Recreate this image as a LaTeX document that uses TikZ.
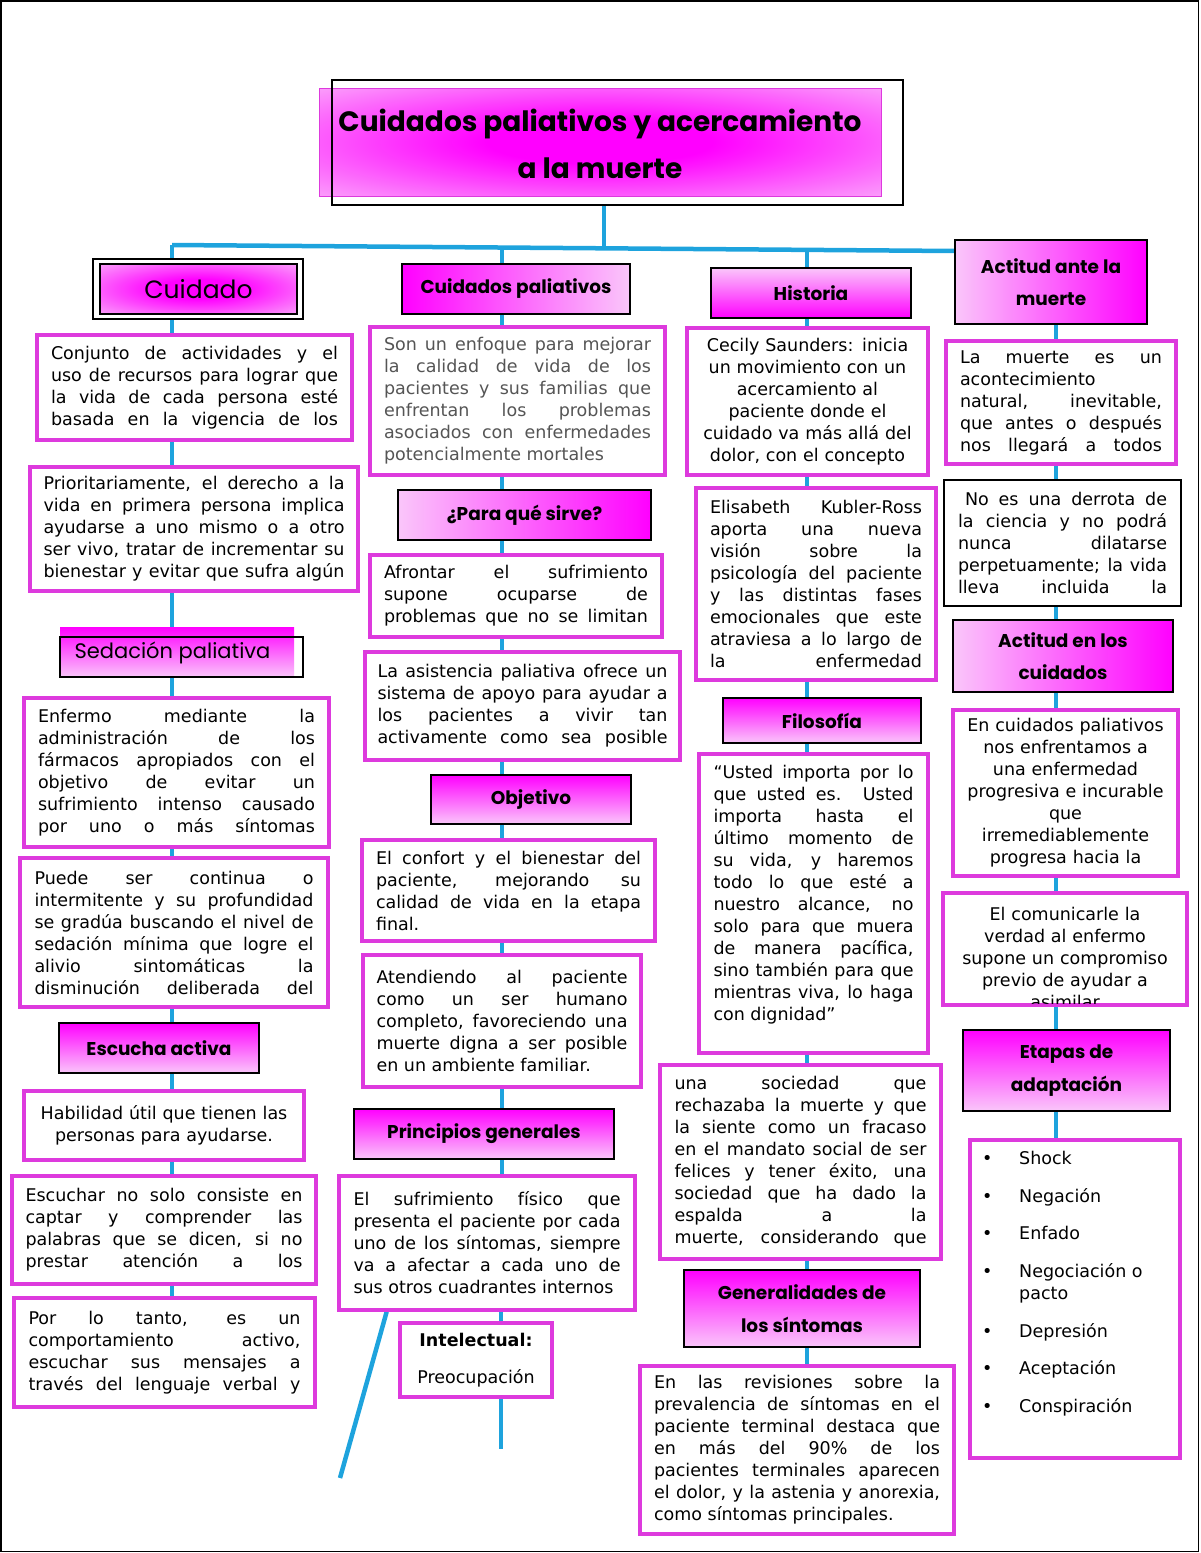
\documentclass[tikz,border=0pt]{standalone}
\usepackage{fontspec}
\setmainfont{DejaVu Sans}
\newfontfamily\hdrfont{Poppins}
\usetikzlibrary{backgrounds,calc}
\definecolor{mborder}{HTML}{DD3ADD}
\definecolor{cblue}{HTML}{1EA3DD}
\definecolor{gpink}{HTML}{FAC6FA}
\definecolor{gmag}{HTML}{FF00FF}
\definecolor{greytxt}{HTML}{555555}
\pgfdeclareradialshading{glow}{\pgfpoint{0bp}{0bp}}{color(0bp)=(gmag); color(10bp)=(gmag); color(42bp)=(gpink); color(50bp)=(gpink)}
\newcommand\bodyf{\fontsize{17.5}{22}\selectfont\tolerance=9999\hyphenpenalty=10000\relax}
\newcommand\pfz{\parfillskip=0pt\relax}
\newcommand\vconn[3]{\draw[conn] (#2.south -| #1) -- (#3.north -| #1);}
\tikzset{
  tbox/.style={draw=mborder, line width=3.5pt, fill=white, inner sep=0pt, font=\bodyf, align=justify},
  cbox/.style={tbox, align=center},
  hbox/.style={draw=black, line width=1.5pt, inner sep=0pt, align=center, font=\hdrfont\bfseries\fontsize{18.5}{32.5}\selectfont},
  vg/.style={top color=gmag, bottom color=gpink},
  vgr/.style={top color=gpink, bottom color=gmag},
  hg/.style={left color=gmag, right color=gpink},
  hgr/.style={left color=gpink, right color=gmag},
  conn/.style={draw=cblue, line width=4.5pt},
}
\begin{document}
\begin{tikzpicture}[x=1pt,y=-1pt]
\useasboundingbox (0,0) rectangle (1200,1553);
\draw[line width=1.5pt] (1,1) rectangle (1198.5,1551.5);

% ---- title
\node[draw=mborder, line width=1pt, shade, shading=glow, minimum width=562, minimum height=108, inner sep=0] (titlefill) at (600,142) {};
\node[draw=black, line width=2pt, minimum width=571, minimum height=125, inner sep=0] (title) at (617.5,142.5) {};
\node[font=\hdrfont\bfseries\fontsize{28}{47}\selectfont, align=center, inner sep=0] (titletxt) at (600,143.5) {Cuidados paliativos y acercamiento\\a la muerte};

\coordinate (hL) at (172,245);
\coordinate (hR) at (955,251);
\coordinate (jt) at (604,248);
\coordinate (jcp) at (502,247.5);
\coordinate (jh) at (807,249.9);
\coordinate (x1) at (172,0);
\coordinate (x2) at (502,0);
\coordinate (x2b) at (501,0);
\coordinate (x3) at (807,0);
\coordinate (x4) at (1056,0);
\coordinate (iend) at (501,1449);
\coordinate (dend) at (340,1478);

% ---- column 1
\node[draw=black, line width=2pt, fill=white, minimum width=210, minimum height=60, inner sep=0] (cuidout) at (198,289) {};
\node[draw=black, line width=1.5pt, shade, shading=glow, minimum width=197, minimum height=50, inner sep=0, font=\hdrfont\fontsize{25}{28}\selectfont] (cuid) at (198.5,289) {Cuidado};

\node[tbox, text width=287, minimum width=315, minimum height=105] (c1) at (194.5,387.5) {\pfz Conjunto de actividades y el\linebreak uso de recursos para lograr que\linebreak la vida de cada persona esté\linebreak basada en la vigencia de los\par};
\node[tbox, text width=301, minimum width=328, minimum height=124] (c2) at (194,529) {\pfz Prioritariamente, el derecho a la\linebreak vida en primera persona implica\linebreak ayudarse a uno mismo o a otro\linebreak ser vivo, tratar de incrementar su\linebreak bienestar y evitar que sufra algún\par};

\node[vg, minimum width=234, minimum height=50, inner sep=0] (sedfill) at (177,652) {};
\node[draw=black, line width=2pt, minimum width=243, minimum height=40, inner sep=0] (sed) at (181.5,657) {};
\node[font=\hdrfont\fontsize{21}{24}\selectfont, inner sep=0] (sedtxt) at (172.5,653) {Sedación paliativa};

\node[tbox, text width=277, minimum width=305, minimum height=149] (c3) at (176.5,772.5) {\pfz Enfermo mediante la\linebreak administración de los\linebreak fármacos apropiados con el\linebreak objetivo de evitar un\linebreak sufrimiento intenso causado\linebreak por uno o más síntomas\par};
\node[tbox, text width=279, minimum width=308, minimum height=149] (c4) at (174,932.5) {\pfz Puede ser continua o\linebreak intermitente y su profundidad\linebreak se gradúa buscando el nivel de\linebreak sedación mínima que logre el\linebreak alivio sintomáticas la\linebreak disminución deliberada del\par};

\node[hbox, vg, minimum width=200, minimum height=50] (esc) at (159,1048) {Escucha activa};
\node[cbox, text width=270, minimum width=280, minimum height=69] (c5) at (164,1125.5) {Habilidad útil que tienen las\\ personas para ayudarse.};
\node[tbox, text width=277, minimum width=304, minimum height=108] (c6) at (164,1230) {\pfz Escuchar no solo consiste en\linebreak captar y comprender las\linebreak palabras que se dicen, si no\linebreak prestar atención a los\par};
\node[tbox, text width=272, minimum width=301, minimum height=109] (c7) at (164.5,1352.5) {\pfz Por lo tanto, es un\linebreak comportamiento activo,\linebreak escuchar sus mensajes a\linebreak través del lenguaje verbal y\par};

% ---- column 2
\node[hbox, hg, minimum width=228, minimum height=50] (cp) at (516,289) {Cuidados paliativos};
\node[tbox, text=greytxt, text width=267, minimum width=295, minimum height=148] (p1) at (517.5,401) {Son un enfoque para mejorar\linebreak la calidad de vida de los\linebreak pacientes y sus familias que\linebreak enfrentan los problemas\linebreak asociados con enfermedades\linebreak potencialmente mortales};
\node[hbox, hgr, minimum width=253, minimum height=50] (pq) at (524.5,515) {¿Para qué sirve?};
\node[tbox, text width=264, minimum width=292, minimum height=82] (p2) at (516,596) {\pfz Afrontar el sufrimiento\linebreak supone ocuparse de\linebreak problemas que no se limitan\par};
\node[tbox, text width=290, minimum width=315, minimum height=108] (p3) at (522.5,706) {\pfz La asistencia paliativa ofrece un\linebreak sistema de apoyo para ayudar a\linebreak los pacientes a vivir tan\linebreak activamente como sea posible\par};
\node[hbox, vg, minimum width=200, minimum height=49] (obj) at (531,799.5) {Objetivo};
\node[tbox, text width=265, minimum width=293, minimum height=101] (p4) at (508.5,890.5) {El confort y el bienestar del\linebreak paciente, mejorando su\linebreak calidad de vida en la etapa\linebreak final.};
\node[tbox, text width=251, minimum width=278, minimum height=132] (p5) at (502,1021) {Atendiendo al paciente\linebreak como un ser humano\linebreak completo, favoreciendo una\linebreak muerte digna a ser posible\linebreak en un ambiente familiar.};
\node[hbox, vg, minimum width=260, minimum height=50] (pg) at (484,1134) {Principios generales};
\node[tbox, text width=267, minimum width=296, minimum height=134] (p6) at (487,1243) {El sufrimiento físico que\linebreak presenta el paciente por cada\linebreak uno de los síntomas, siempre\linebreak va a afectar a cada uno de\linebreak sus otros cuadrantes internos};
\node[cbox, text width=140, minimum width=152, minimum height=74] (intel) at (476,1360) {\textbf{Intelectual:}\\[15pt]Preocupación};

% ---- column 3
\node[hbox, vgr, minimum width=200, minimum height=50] (hist) at (811,293) {Historia};
\node[cbox, text width=228, minimum width=241, minimum height=147] (h1) at (807.5,401.5) {Cecily Saunders: inicia\\ un movimiento con un\\ acercamiento al\\ paciente donde el\\ cuidado va más allá del\\ dolor, con el concepto};
\node[tbox, text width=212, minimum width=240, minimum height=192] (h2) at (816,584) {\pfz Elisabeth Kubler-Ross\linebreak aporta una nueva\linebreak visión sobre la\linebreak psicología del paciente\linebreak y las distintas fases\linebreak emocionales que este\linebreak atraviesa a lo largo de\linebreak la enfermedad\par};
\node[hbox, vg, minimum width=198, minimum height=45] (fil) at (822,720.5) {Filosofía};
\node[tbox, text width=200, minimum width=229, minimum height=299] (h3) at (813.5,903.5) {“Usted importa por lo\linebreak que usted es. Usted\linebreak importa hasta el\linebreak último momento de\linebreak su vida, y haremos\linebreak todo lo que esté a\linebreak nuestro alcance, no\linebreak solo para que muera\linebreak de manera pacífica,\linebreak sino también para que\linebreak mientras viva, lo haga\linebreak con dignidad”\\\mbox{}};
\node[tbox, text width=252, minimum width=281, minimum height=194] (h4) at (800.5,1162) {\pfz una sociedad que\linebreak rechazaba la muerte y que\linebreak la siente como un fracaso\linebreak en el mandato social de ser\linebreak felices y tener éxito, una\linebreak sociedad que ha dado la\linebreak espalda a la\linebreak muerte, considerando que\par};
\node[hbox, vg, minimum width=236, minimum height=77] (gen) at (802,1308.5) {Generalidades de\\los síntomas};
\node[tbox, text width=286, minimum width=314, minimum height=168] (h6) at (797,1450) {En las revisiones sobre la\linebreak prevalencia de síntomas en el\linebreak paciente terminal destaca que\linebreak en más del 90\% de los\linebreak pacientes terminales aparecen\linebreak el dolor, y la astenia y anorexia,\linebreak como síntomas principales.};

% ---- column 4
\node[hbox, hgr, minimum width=192, minimum height=84] (a0) at (1051,282) {Actitud ante la\\muerte};
\node[tbox, text width=202, minimum width=230, minimum height=123] (a1) at (1061,402.5) {\pfz La muerte es un\linebreak acontecimiento\linebreak natural, inevitable,\linebreak que antes o después\linebreak nos llegará a todos\par};
\node[tbox, draw=black, line width=2pt, text width=209, minimum width=237, minimum height=126] (a2) at (1062.5,543) {\pfz\hspace*{7pt}No es una derrota de\linebreak la ciencia y no podrá\linebreak nunca dilatarse\linebreak perpetuamente; la vida\linebreak lleva incluida la\par};
\node[hbox, hgr, minimum width=220, minimum height=72] (a3) at (1063,656) {Actitud en los\\cuidados};
\node[cbox, text width=215, minimum width=225, minimum height=166] (a4) at (1065.5,793) {En cuidados paliativos\\ nos enfrentamos a\\ una enfermedad\\ progresiva e incurable\\ que\\ irremediablemente\\ progresa hacia la};
\node[tbox, minimum width=244, minimum height=112] (a5) at (1065,949) {};
\begin{scope}
\clip ($(a5.north west)+(2,3.5)$) rectangle ($(a5.south east)+(-2,-3.6)$);
\node[anchor=north, inner sep=0, text width=232, align=center, font=\bodyf] (a5t) at (1065,907) {El comunicarle la\\ verdad al enfermo\\ supone un compromiso\\ previo de ayudar a\\ asimilar};
\end{scope}
\node[hbox, vg, minimum width=207, minimum height=81] (et) at (1066.5,1070.5) {Etapas de\\adaptación};
\node[tbox, minimum width=210, minimum height=318] (a7) at (1075,1299) {};
\node[anchor=north west, inner sep=0, font=\bodyf] (etlist) at (982,1149) {\begin{tabular}{@{}p{37pt}@{}l@{}}
•&Shock\\[15.6pt]
•&Negación\\[15.6pt]
•&Enfado\\[15.6pt]
•&Negociación o\\
&pacto\\[15.6pt]
•&Depresión\\[15.6pt]
•&Aceptación\\[15.6pt]
•&Conspiración
\end{tabular}};

% ---- connectors
\begin{pgfonlayer}{background}
\draw[conn] (title.south -| jt) -- (jt);
\draw[conn] (hL) -- (hR);
\draw[conn] (hL) -- (cuidout.north -| x1);
\vconn{x1}{cuidout}{c1}
\vconn{x1}{c1}{c2}
\vconn{x1}{c2}{sedfill}
\vconn{x1}{sed}{c3}
\vconn{x1}{c3}{c4}
\vconn{x1}{c4}{esc}
\vconn{x1}{esc}{c5}
\vconn{x1}{c5}{c6}
\vconn{x1}{c6}{c7}
\draw[conn] (jcp) -- (cp.north -| x2);
\vconn{x2}{cp}{p1}
\vconn{x2}{p1}{pq}
\vconn{x2}{pq}{p2}
\vconn{x2}{p2}{p3}
\vconn{x2}{p3}{obj}
\vconn{x2}{obj}{p4}
\vconn{x2}{p4}{p5}
\vconn{x2}{p5}{pg}
\vconn{x2}{pg}{p6}
\vconn{x2b}{p6}{intel}
\draw[conn] (intel.south -| x2b) -- (iend);
\draw[conn] ($(p6.south west)!0.165!(p6.south east)$) -- (dend);
\draw[conn] (jh) -- (hist.north -| x3);
\vconn{x3}{hist}{h1}
\vconn{x3}{h1}{h2}
\vconn{x3}{h2}{fil}
\vconn{x3}{fil}{h3}
\vconn{x3}{h3}{h4}
\vconn{x3}{h4}{gen}
\vconn{x3}{gen}{h6}
\vconn{x4}{a0}{a1}
\vconn{x4}{a1}{a2}
\vconn{x4}{a2}{a3}
\vconn{x4}{a3}{a4}
\vconn{x4}{a4}{a5}
\vconn{x4}{a5}{et}
\vconn{x4}{et}{a7}
\end{pgfonlayer}
\end{tikzpicture}
\end{document}
